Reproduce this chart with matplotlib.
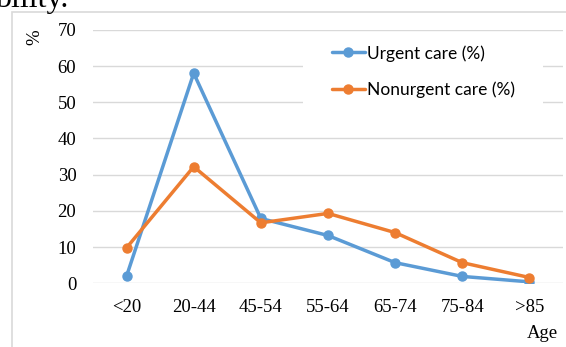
import matplotlib
matplotlib.use("Agg")
import matplotlib.pyplot as plt
from matplotlib.patches import Rectangle

categories = ["<20", "20-44", "45-54", "55-64", "65-74", "75-84", ">85"]
urgent = [2.0, 58.0, 17.9, 13.2, 5.7, 1.9, 0.4]
nonurgent = [9.8, 32.2, 16.7, 19.3, 14.0, 5.7, 1.6]
yticks = [0, 10, 20, 30, 40, 50, 60, 70]

W, H = 566, 347
fig = plt.figure(figsize=(W / 100, H / 100), dpi=100)

def fx(px):
    return px / W

def fy(py):
    return 1 - py / H

serif = "Liberation Serif"
blue = "#5B9BD5"
orange = "#ED7D31"
fs = 13.5

# outer frame of the chart area
fig.patches.append(Rectangle((fx(11.5), fy(400)), fx(600), fy(12.5) - fy(400),
                             transform=fig.transFigure, fill=False,
                             edgecolor="#D9D9D9", linewidth=1.2))
# clipped document text above the chart
fig.text(fx(-5), fy(6.5), "bility.", family=serif, fontsize=23,
         va="baseline", ha="left", color="black")

ax = fig.add_axes([fx(93), fy(283.3), fx(563) - fx(93), fy(29.8) - fy(283.3)])

x = list(range(len(categories)))
ax.plot(x, urgent, color=blue, lw=2.5, marker="o", ms=6.5, label="Urgent care (%)",
        solid_capstyle="round", zorder=3)
ax.plot(x, nonurgent, color=orange, lw=2.5, marker="o", ms=6.5, label="Nonurgent care (%)",
        solid_capstyle="round", zorder=4)

ax.set_xlim(-0.5, len(categories) - 0.5)
ax.set_ylim(0, 70)
ax.set_yticks(yticks)
ax.set_xticks(x)
ax.set_xticklabels(categories, family=serif, fontsize=fs)
ax.set_yticklabels([str(v) for v in yticks], family=serif, fontsize=fs)
ax.tick_params(axis="both", length=0)
ax.tick_params(axis="y", pad=12)
ax.tick_params(axis="x", pad=11)
ax.grid(axis="y", color="#D9D9D9", lw=1.0)
ax.set_axisbelow(True)
for s in ax.spines.values():
    s.set_visible(False)

# white legend background box
ax.add_patch(Rectangle((fx(303), fy(108)), fx(543) - fx(303), fy(33) - fy(108),
                       transform=fig.transFigure, facecolor="white",
                       edgecolor="none", zorder=1))

fig.text(fx(35), fy(37), "%", family=serif, fontsize=fs, rotation=90,
         ha="center", va="center")
fig.text(fx(542), fy(333), "Age", family=serif, fontsize=fs, ha="center", va="center")

leg = ax.legend(loc="upper left", bbox_to_anchor=(fx(332), fy(45)),
                bbox_transform=fig.transFigure, frameon=False,
                prop={"family": "Lato", "size": 12.5}, handlelength=1.9,
                handletextpad=0.12, labelspacing=1.16, borderpad=0,
                borderaxespad=0)

fig.savefig("out.png", dpi=100)
